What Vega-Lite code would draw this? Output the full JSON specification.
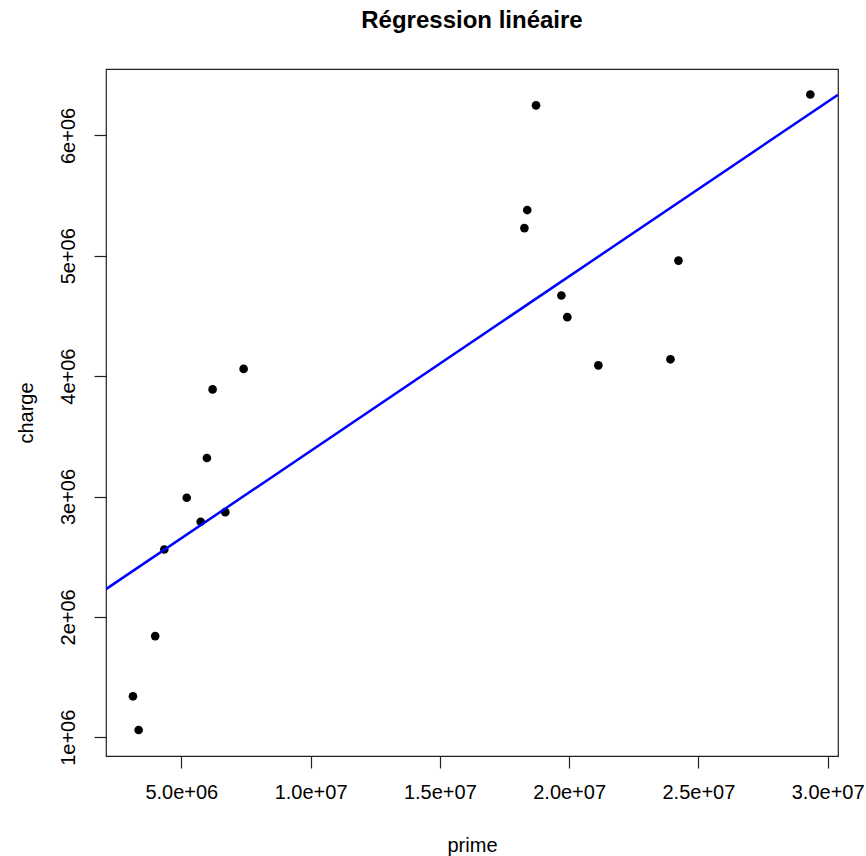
{
  "$schema": "https://vega.github.io/schema/vega-lite/v6.json",
  "width": 732,
  "height": 687,
  "autosize": {"type": "none"},
  "padding": {"left": 106, "top": 69, "right": 28, "bottom": 100},
  "background": "white",
  "config": {
    "font": "Liberation Sans",
    "view": {"stroke": "#222", "strokeWidth": 1.2},
    "axis": {
      "domain": false,
      "grid": false,
      "ticks": true,
      "tickSize": 12,
      "tickColor": "#222",
      "tickWidth": 1.2,
      "labelFont": "Liberation Sans",
      "labelFontSize": 20,
      "labelColor": "#000",
      "titleFont": "Liberation Sans",
      "titleFontSize": 20,
      "titleFontWeight": "normal",
      "titleColor": "#000"
    }
  },
  "title": {
    "text": "Régression linéaire",
    "font": "Liberation Sans",
    "fontSize": 24,
    "fontWeight": "bold",
    "color": "#000",
    "anchor": "middle",
    "offset": 36
  },
  "data": {
    "values": [
      {"prime": 3130000, "charge": 1340000},
      {"prime": 3350000, "charge": 1060000},
      {"prime": 3990000, "charge": 1840000},
      {"prime": 4340000, "charge": 2560000},
      {"prime": 5210000, "charge": 2990000},
      {"prime": 5750000, "charge": 2790000},
      {"prime": 5990000, "charge": 3320000},
      {"prime": 6210000, "charge": 3890000},
      {"prime": 6700000, "charge": 2870000},
      {"prime": 7410000, "charge": 4060000},
      {"prime": 18270000, "charge": 5230000},
      {"prime": 18380000, "charge": 5380000},
      {"prime": 18720000, "charge": 6250000},
      {"prime": 19700000, "charge": 4670000},
      {"prime": 19930000, "charge": 4490000},
      {"prime": 21130000, "charge": 4090000},
      {"prime": 23920000, "charge": 4140000},
      {"prime": 24230000, "charge": 4960000},
      {"prime": 29330000, "charge": 6340000}
    ]
  },
  "encoding": {
    "x": {
      "field": "prime",
      "type": "quantitative",
      "title": "prime",
      "scale": {"domain": [2087000, 30400000], "nice": false, "zero": false},
      "axis": {
        "values": [5000000, 10000000, 15000000, 20000000, 25000000, 30000000],
        "labelExpr": "replace(format(datum.value, '.1e'), 'e+', 'e+0')",
        "labelPadding": 14,
        "titlePadding": 33
      }
    },
    "y": {
      "field": "charge",
      "type": "quantitative",
      "title": "charge",
      "scale": {"domain": [844000, 6552000], "nice": false, "zero": false},
      "axis": {
        "values": [1000000, 2000000, 3000000, 4000000, 5000000, 6000000],
        "labelExpr": "replace(format(datum.value, '.0e'), 'e+', 'e+0')",
        "labelAngle": -90,
        "labelAlign": "center",
        "labelBaseline": "bottom",
        "labelPadding": 16,
        "titlePadding": 22
      }
    }
  },
  "layer": [
    {
      "mark": {"type": "circle", "size": 75, "color": "#000", "opacity": 1}
    },
    {
      "transform": [
        {"regression": "charge", "on": "prime", "extent": [2087000, 30400000]}
      ],
      "mark": {"type": "line", "color": "#0000ff", "strokeWidth": 2.5, "clip": true}
    }
  ]
}
